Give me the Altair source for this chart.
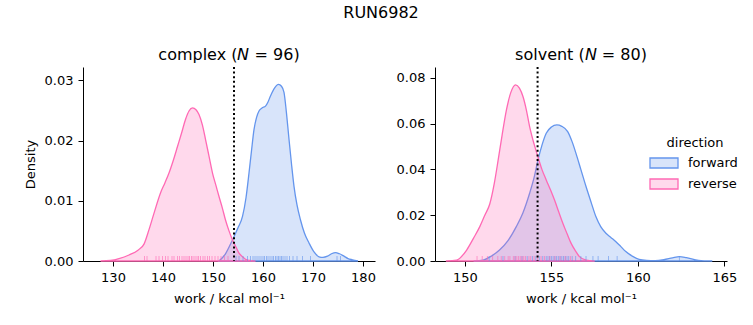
import altair as alt
import pandas as pd

FONT = "DejaVu Sans"
BLUE = "#6495ED"
PINK = "#FF69B4"
LIGHT_BLUE = "#D8E4FA"
LIGHT_PINK = "#FFD9EC"

# ---- KDE curves ----
cf_x = [151.2, 152.5, 153.9, 155.0, 155.9, 156.6, 157.2, 157.7, 158.2, 158.7, 159.2, 159.8, 160.5, 161.0,
        161.5, 162.3, 163.1, 163.7, 164.2, 164.7, 165.2, 165.7, 166.2, 166.8, 167.5, 168.3, 169.2, 170.2,
        171.2, 172.0, 172.9, 173.7, 174.5, 175.3, 176.2, 177.0, 177.9, 179.0]
cf_d = [0.0, 0.0012, 0.0035, 0.0055, 0.0074, 0.0105, 0.0146, 0.0183, 0.0218, 0.0238, 0.0249, 0.0254, 0.0257, 0.0264,
        0.0274, 0.0287, 0.0293, 0.0290, 0.0280, 0.0245, 0.0202, 0.0161, 0.0124, 0.0093, 0.0068, 0.0046, 0.0030, 0.0015,
        0.0007, 0.0006, 0.0008, 0.0012, 0.0014, 0.0012, 0.0008, 0.0004, 0.0002, 0.0]

cr_x = [127.5, 129.5, 131.2, 133.2, 135.0, 136.2, 137.2, 138.3, 139.5, 140.4, 141.2, 142.1, 142.9, 143.7,
        144.5, 145.2, 145.9, 146.6, 147.2, 147.9, 148.5, 149.2, 149.9, 150.6, 151.2, 151.9, 152.5, 153.2,
        153.9, 154.6, 155.2, 155.9, 156.5, 157.3, 158.5]
cr_d = [0.0, 0.0001, 0.0004, 0.0010, 0.0018, 0.0028, 0.0052, 0.0082, 0.0113, 0.0130, 0.0146, 0.0168, 0.0190, 0.0212,
        0.0235, 0.0249, 0.0254, 0.0251, 0.0243, 0.0225, 0.0202, 0.0174, 0.0146, 0.0125, 0.0107, 0.0087, 0.0068, 0.0050,
        0.0035, 0.0023, 0.0013, 0.0007, 0.0003, 0.0001, 0.0]

sf_x = [150.5, 151.05, 151.5, 152.0, 152.5, 152.97, 153.35, 153.74, 154.0, 154.22, 154.45, 154.7, 155.0, 155.31,
        155.6, 155.94, 156.2, 156.42, 156.7, 157.0, 157.3, 157.57, 157.85, 158.15, 158.45, 158.73, 159.0, 159.3,
        159.7, 160.07, 160.5, 161.0, 161.5, 162.0, 162.4, 162.8, 163.5, 164.3]
sf_d = [0.0, 0.0004, 0.0020, 0.0048, 0.0090, 0.0150, 0.0210, 0.0296, 0.0365, 0.0440, 0.0505, 0.0558, 0.0585, 0.0594,
        0.0588, 0.0565, 0.0520, 0.0470, 0.0400, 0.0325, 0.0255, 0.0194, 0.0150, 0.0121, 0.0102, 0.0084, 0.0064, 0.0041,
        0.0020, 0.0007, 0.0003, 0.0002, 0.0006, 0.0014, 0.0019, 0.0015, 0.0003, 0.0]

sr_x = [148.9, 149.52, 150.1, 150.5, 150.86, 151.15, 151.44, 151.7, 151.92, 152.15, 152.4, 152.65, 152.93, 153.15,
        153.36, 153.55, 153.74, 154.0, 154.22, 154.45, 154.7, 154.95, 155.18, 155.42, 155.66, 155.9, 156.14, 156.4,
        156.62, 157.0, 157.5]
sr_d = [0.0, 0.0004, 0.0048, 0.0100, 0.0150, 0.0200, 0.0250, 0.0340, 0.0440, 0.0550, 0.0660, 0.0735, 0.0769, 0.0755,
        0.0717, 0.0660, 0.0587, 0.0510, 0.0455, 0.0400, 0.0354, 0.0310, 0.0266, 0.0215, 0.0165, 0.0120, 0.0077, 0.0043,
        0.0019, 0.0004, 0.0]

# ---- rug samples (approximate) ----
c_fwd_rug = [154.6, 155.2, 156.0, 156.9, 157.5, 158.0, 158.4, 158.8, 159.2, 159.6, 160.0, 160.3, 160.7, 161.0, 161.4,
             161.8, 162.1, 162.5, 162.8, 163.1, 163.4, 163.7, 164.0, 164.4, 164.8, 165.3, 166.0, 166.8, 167.9, 169.5,
             174.8, 175.5]
c_rev_rug = [136.3, 136.8, 138.6, 139.2, 139.9, 140.5, 141.0, 141.8, 142.2, 142.9, 143.3, 143.8, 144.2, 144.6, 145.0,
             145.3, 145.7, 146.0, 146.4, 146.8, 147.1, 147.5, 148.0, 148.4, 148.9, 149.3, 149.8, 150.4, 151.0, 151.6,
             152.3, 153.0]
s_fwd_rug = [151.4, 152.2, 152.9, 153.3, 153.6, 153.9, 154.1, 154.3, 154.5, 154.7, 154.8, 154.9, 155.0, 155.1, 155.2,
             155.3, 155.4, 155.5, 155.6, 155.7, 155.8, 155.9, 156.0, 156.2, 156.4, 156.7, 157.0, 157.4, 157.7, 158.3,
             158.8, 162.4]
s_rev_rug = [150.7, 151.0, 151.3, 151.6, 151.9, 152.1, 152.3, 152.5, 152.6, 152.8, 152.9, 153.0, 153.1, 153.2, 153.3,
             153.4, 153.5, 153.7, 153.8, 154.0, 154.2, 154.4, 154.6, 154.9, 155.2, 155.5, 155.8, 156.1]

ref_value = [154.2]
directions = ["forward", "reverse"]


def curve_df(fx, fd, rx, rd):
    return pd.concat([
        pd.DataFrame({"work": fx, "density": fd, "direction": "forward"}),
        pd.DataFrame({"work": rx, "density": rd, "direction": "reverse"}),
    ])


def panel(curves, fwd_rug, rev_rug, xdom, xticks, ydom, yticks, ytitle, title, show_legend):
    xenc = alt.X("work:Q", scale=alt.Scale(domain=xdom, nice=False, zero=False),
                 axis=alt.Axis(values=xticks, title="work / kcal mol⁻¹", format="d", titlePadding=8))
    if ytitle is None:
        yaxis = alt.Axis(values=yticks, format=".2f", title=None)
    else:
        yaxis = alt.Axis(values=yticks, format=".2f", title=ytitle, titlePadding=7)
    yenc = alt.Y("density:Q", stack=None, scale=alt.Scale(domain=ydom, nice=False, zero=True), axis=yaxis)

    layers = []
    for d, col in (("forward", BLUE), ("reverse", PINK)):
        layers.append(
            alt.Chart(curves).transform_filter(alt.datum.direction == d).mark_area(
                color=col, fillOpacity=0.25, stroke=col, strokeWidth=1.3, interpolate="monotone"
            ).encode(x=xenc, y=yenc)
        )
    layers.append(alt.Chart(pd.DataFrame({"work": fwd_rug})).mark_rule(color=BLUE, strokeWidth=1, opacity=0.6).encode(
        x="work:Q", y=alt.value(189), y2=alt.value(194)))
    layers.append(alt.Chart(pd.DataFrame({"work": rev_rug})).mark_rule(color=PINK, strokeWidth=1, opacity=0.6).encode(
        x="work:Q", y=alt.value(189), y2=alt.value(194)))
    layers.append(alt.Chart(pd.DataFrame({"work": ref_value})).mark_rule(
        color="black", strokeWidth=2, strokeDash=[2, 2.6]).encode(x="work:Q"))
    if show_legend:
        leg = alt.Legend(title="direction", orient="none", legendX=570, legendY=70,
                         symbolType="M-1.4,-0.5H1.4V0.5H-1.4Z", symbolSize=400, symbolStrokeWidth=1.3,
                         labelOffset=13, titleAnchor="middle", titlePadding=2, rowPadding=2, padding=0,
                         labelFontSize=13, titleFontSize=13, titleFontWeight="normal", labelFont=FONT,
                         titleFont=FONT, labelColor="black", titleColor="black")
        layers.append(
            alt.Chart(curves).transform_filter("false").mark_area().encode(
                x=xenc, y=yenc,
                fill=alt.Fill("direction:N", scale=alt.Scale(domain=directions, range=[LIGHT_BLUE, LIGHT_PINK]),
                              legend=leg),
                stroke=alt.Stroke("direction:N", scale=alt.Scale(domain=directions, range=[BLUE, PINK]),
                                  legend=leg),
            )
        )
    return alt.layer(*layers).properties(
        width=292, height=194,
        title=alt.TitleParams(title, fontSize=16, font=FONT, fontWeight="normal", offset=3, anchor="middle"),
    )


left = panel(curve_df(cf_x, cf_d, cr_x, cr_d), c_fwd_rug, c_rev_rug, [124.0, 182.4],
             [130, 140, 150, 160, 170, 180], [0.0, 0.0322], [0.0, 0.01, 0.02, 0.03], "Density",
             "complex (𝘕 = 96)", False)
right = panel(curve_df(sf_x, sf_d, sr_x, sr_d), s_fwd_rug, s_rev_rug, [148.27, 165.15],
              [150, 155, 160, 165], [0.0, 0.0847], [0.0, 0.02, 0.04, 0.06, 0.08], None,
              "solvent (𝘕 = 80)", True)

chart = alt.hconcat(left, right, spacing=20).resolve_scale(
    x="independent", y="independent"
).properties(
    title=alt.TitleParams("RUN6982", fontSize=16, font=FONT, fontWeight="normal", anchor="middle", offset=26),
    padding={"left": 24, "top": 5, "right": 0, "bottom": 0},
).configure_view(stroke=None).configure_axis(
    grid=False, domainColor="black", tickColor="black", labelColor="black", titleColor="black",
    labelFont=FONT, titleFont=FONT, labelFontSize=13, titleFontSize=13, titleFontWeight="normal",
    tickSize=5, domainWidth=1, tickWidth=1, labelPadding=5, zindex=1,
).configure_title(color="black")

chart.save("out.html", embed_options={"renderer": "svg", "actions": False})
